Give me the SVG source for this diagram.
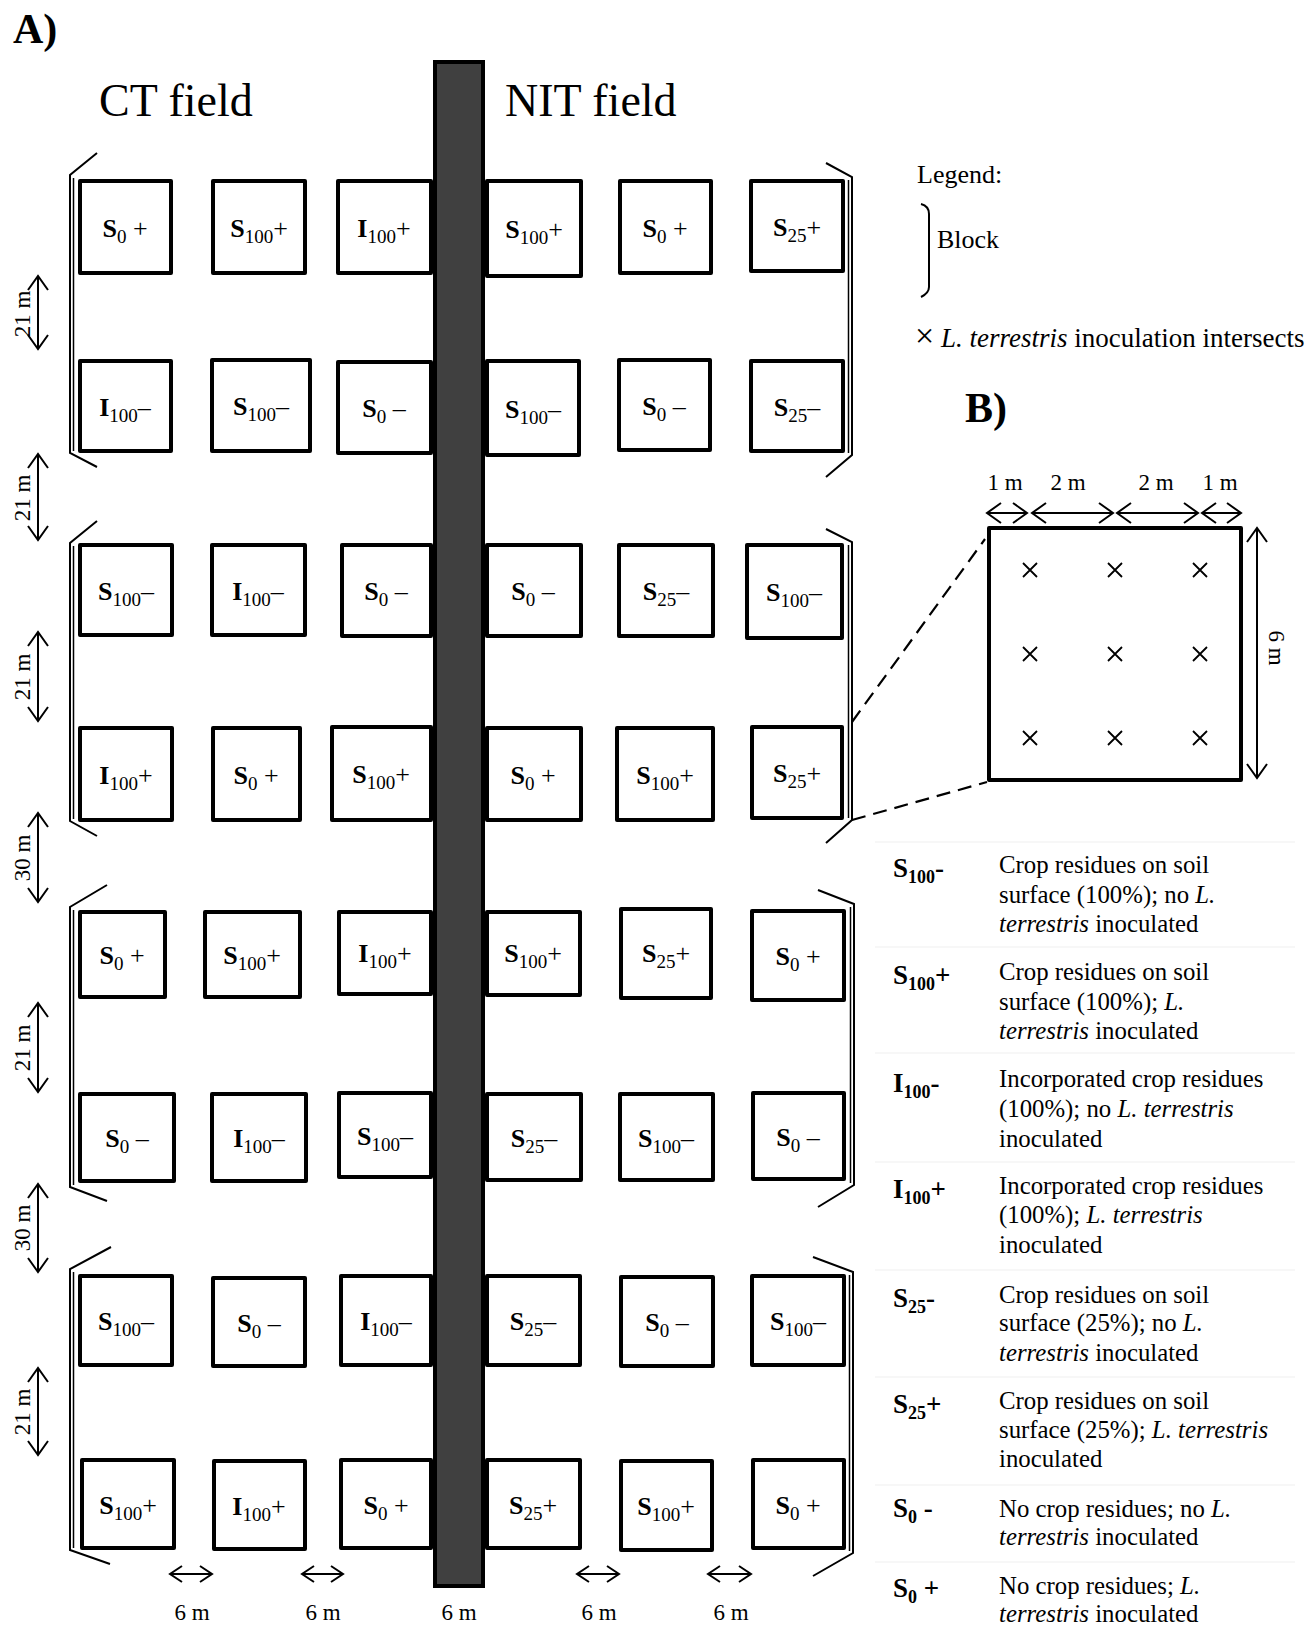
<svg xmlns="http://www.w3.org/2000/svg" width="1315" height="1627" viewBox="0 0 1315 1627">
<style>
text { font-family: "Liberation Serif", "Times New Roman", serif; fill: #000; }
.box { fill: #fff; stroke: #000; stroke-width: 4; stroke-linejoin: round; }
.lbl { font-size: 26px; text-anchor: middle; }
.b { font-weight: bold; }
.sub { font-size: 19px; }
.thin { fill: none; stroke: #000; stroke-width: 2; }
.inner { fill: none; stroke: #000; stroke-width: 1.5; }
.dim { fill: none; stroke: #000; stroke-width: 2; marker-start: url(#ah); marker-end: url(#ah); }
.dims { fill: none; stroke: #000; stroke-width: 2; marker-start: url(#ahs); marker-end: url(#ahs); }
.dash { fill: none; stroke: #000; stroke-width: 2.2; stroke-dasharray: 14 8; }
.dl { font-size: 23px; text-anchor: middle; }
.title { font-size: 46px; }
.head { font-size: 42px; font-weight: bold; }
.leg { font-size: 26px; }
.leg2 { font-size: 27px; }
.big { font-size: 34px; }
.tl { font-size: 27px; font-weight: bold; }
.tls { font-size: 18px; }
.td { font-size: 24.8px; }
.it { font-style: italic; }
.x { stroke: #000; stroke-width: 1.8; }
.grid { stroke: #f4f4f4; stroke-width: 1.5; }
</style>
<defs>
<marker id="ah" viewBox="-1 -11 17 22" refX="14" refY="0" markerWidth="17" markerHeight="22" markerUnits="userSpaceOnUse" orient="auto-start-reverse">
<path d="M0,-10 L14,0 L0,10" fill="none" stroke="#000" stroke-width="2"/>
</marker>
<marker id="ahs" viewBox="-1 -9 15 18" refX="12" refY="0" markerWidth="15" markerHeight="18" markerUnits="userSpaceOnUse" orient="auto-start-reverse">
<path d="M0,-8 L12,0 L0,8" fill="none" stroke="#000" stroke-width="2"/>
</marker>
</defs>
<rect width="1315" height="1627" fill="#fff"/>

<!-- headings -->
<text class="head" x="13" y="43">A)</text>
<text class="title" x="99" y="116">CT field</text>
<text class="title" x="505" y="116">NIT field</text>
<text class="head" x="965" y="422">B)</text>

<!-- road -->
<g id="road">
<rect x="435" y="62" width="48" height="1524" fill="#404040" stroke="#000" stroke-width="4"/>
</g>

<!-- plots -->
<g id="plots">
<!-- Row 1 -->
<g id="r1c1"><rect class="box" x="80" y="181" width="91" height="92"/><text class="lbl" x="125" y="237"><tspan class="b">S</tspan><tspan class="sub" dy="6">0</tspan><tspan dy="-6"> +</tspan></text></g>
<g id="r1c2"><rect class="box" x="213" y="181" width="92" height="92"/><text class="lbl" x="259" y="237"><tspan class="b">S</tspan><tspan class="sub" dy="6">100</tspan><tspan dy="-6">+</tspan></text></g>
<g id="r1c3"><rect class="box" x="338" y="181" width="93" height="92"/><text class="lbl" x="384" y="237"><tspan class="b">I</tspan><tspan class="sub" dy="6">100</tspan><tspan dy="-6">+</tspan></text></g>
<g id="r1c4"><rect class="box" x="487" y="181" width="94" height="95"/><text class="lbl" x="534" y="238"><tspan class="b">S</tspan><tspan class="sub" dy="6">100</tspan><tspan dy="-6">+</tspan></text></g>
<g id="r1c5"><rect class="box" x="620" y="181" width="91" height="92"/><text class="lbl" x="665" y="237"><tspan class="b">S</tspan><tspan class="sub" dy="6">0</tspan><tspan dy="-6"> +</tspan></text></g>
<g id="r1c6"><rect class="box" x="751" y="181" width="92" height="90"/><text class="lbl" x="797" y="236"><tspan class="b">S</tspan><tspan class="sub" dy="6">25</tspan><tspan dy="-6">+</tspan></text></g>
<!-- Row 2 -->
<g id="r2c1"><rect class="box" x="80" y="361" width="91" height="90"/><text class="lbl" x="125" y="416"><tspan class="b">I</tspan><tspan class="sub" dy="6">100</tspan><tspan dy="-6">–</tspan></text></g>
<g id="r2c2"><rect class="box" x="212" y="360" width="98" height="91"/><text class="lbl" x="261" y="415"><tspan class="b">S</tspan><tspan class="sub" dy="6">100</tspan><tspan dy="-6">–</tspan></text></g>
<g id="r2c3"><rect class="box" x="338" y="362" width="93" height="91"/><text class="lbl" x="384" y="417"><tspan class="b">S</tspan><tspan class="sub" dy="6">0</tspan><tspan dy="-6"> –</tspan></text></g>
<g id="r2c4"><rect class="box" x="487" y="361" width="92" height="94"/><text class="lbl" x="533" y="418"><tspan class="b">S</tspan><tspan class="sub" dy="6">100</tspan><tspan dy="-6">–</tspan></text></g>
<g id="r2c5"><rect class="box" x="619" y="360" width="91" height="90"/><text class="lbl" x="664" y="415"><tspan class="b">S</tspan><tspan class="sub" dy="6">0</tspan><tspan dy="-6"> –</tspan></text></g>
<g id="r2c6"><rect class="box" x="751" y="361" width="92" height="90"/><text class="lbl" x="797" y="416"><tspan class="b">S</tspan><tspan class="sub" dy="6">25</tspan><tspan dy="-6">–</tspan></text></g>
<!-- Row 3 -->
<g id="r3c1"><rect class="box" x="80" y="545" width="92" height="90"/><text class="lbl" x="126" y="600"><tspan class="b">S</tspan><tspan class="sub" dy="6">100</tspan><tspan dy="-6">–</tspan></text></g>
<g id="r3c2"><rect class="box" x="212" y="545" width="93" height="90"/><text class="lbl" x="258" y="600"><tspan class="b">I</tspan><tspan class="sub" dy="6">100</tspan><tspan dy="-6">–</tspan></text></g>
<g id="r3c3"><rect class="box" x="342" y="545" width="89" height="91"/><text class="lbl" x="386" y="600"><tspan class="b">S</tspan><tspan class="sub" dy="6">0</tspan><tspan dy="-6"> –</tspan></text></g>
<g id="r3c4"><rect class="box" x="487" y="545" width="94" height="91"/><text class="lbl" x="533" y="600"><tspan class="b">S</tspan><tspan class="sub" dy="6">0</tspan><tspan dy="-6"> –</tspan></text></g>
<g id="r3c5"><rect class="box" x="619" y="545" width="94" height="91"/><text class="lbl" x="666" y="600"><tspan class="b">S</tspan><tspan class="sub" dy="6">25</tspan><tspan dy="-6">–</tspan></text></g>
<g id="r3c6"><rect class="box" x="747" y="545" width="95" height="93"/><text class="lbl" x="794" y="601"><tspan class="b">S</tspan><tspan class="sub" dy="6">100</tspan><tspan dy="-6">–</tspan></text></g>
<!-- Row 4 -->
<g id="r4c1"><rect class="box" x="80" y="728" width="92" height="92"/><text class="lbl" x="126" y="784"><tspan class="b">I</tspan><tspan class="sub" dy="6">100</tspan><tspan dy="-6">+</tspan></text></g>
<g id="r4c2"><rect class="box" x="213" y="728" width="87" height="92"/><text class="lbl" x="256" y="784"><tspan class="b">S</tspan><tspan class="sub" dy="6">0</tspan><tspan dy="-6"> +</tspan></text></g>
<g id="r4c3"><rect class="box" x="332" y="727" width="99" height="93"/><text class="lbl" x="381" y="783"><tspan class="b">S</tspan><tspan class="sub" dy="6">100</tspan><tspan dy="-6">+</tspan></text></g>
<g id="r4c4"><rect class="box" x="487" y="728" width="94" height="92"/><text class="lbl" x="533" y="784"><tspan class="b">S</tspan><tspan class="sub" dy="6">0</tspan><tspan dy="-6"> +</tspan></text></g>
<g id="r4c5"><rect class="box" x="617" y="728" width="96" height="92"/><text class="lbl" x="665" y="784"><tspan class="b">S</tspan><tspan class="sub" dy="6">100</tspan><tspan dy="-6">+</tspan></text></g>
<g id="r4c6"><rect class="box" x="752" y="727" width="90" height="91"/><text class="lbl" x="797" y="782"><tspan class="b">S</tspan><tspan class="sub" dy="6">25</tspan><tspan dy="-6">+</tspan></text></g>
<!-- Row 5 -->
<g id="r5c1"><rect class="box" x="80" y="912" width="85" height="85"/><text class="lbl" x="122" y="964"><tspan class="b">S</tspan><tspan class="sub" dy="6">0</tspan><tspan dy="-6"> +</tspan></text></g>
<g id="r5c2"><rect class="box" x="205" y="912" width="95" height="85"/><text class="lbl" x="252" y="964"><tspan class="b">S</tspan><tspan class="sub" dy="6">100</tspan><tspan dy="-6">+</tspan></text></g>
<g id="r5c3"><rect class="box" x="339" y="912" width="92" height="82"/><text class="lbl" x="385" y="962"><tspan class="b">I</tspan><tspan class="sub" dy="6">100</tspan><tspan dy="-6">+</tspan></text></g>
<g id="r5c4"><rect class="box" x="487" y="912" width="93" height="83"/><text class="lbl" x="533" y="962"><tspan class="b">S</tspan><tspan class="sub" dy="6">100</tspan><tspan dy="-6">+</tspan></text></g>
<g id="r5c5"><rect class="box" x="621" y="909" width="90" height="89"/><text class="lbl" x="666" y="962"><tspan class="b">S</tspan><tspan class="sub" dy="6">25</tspan><tspan dy="-6">+</tspan></text></g>
<g id="r5c6"><rect class="box" x="752" y="911" width="92" height="89"/><text class="lbl" x="798" y="965"><tspan class="b">S</tspan><tspan class="sub" dy="6">0</tspan><tspan dy="-6"> +</tspan></text></g>
<!-- Row 6 -->
<g id="r6c1"><rect class="box" x="80" y="1094" width="94" height="87"/><text class="lbl" x="127" y="1147"><tspan class="b">S</tspan><tspan class="sub" dy="6">0</tspan><tspan dy="-6"> –</tspan></text></g>
<g id="r6c2"><rect class="box" x="212" y="1094" width="94" height="87"/><text class="lbl" x="259" y="1147"><tspan class="b">I</tspan><tspan class="sub" dy="6">100</tspan><tspan dy="-6">–</tspan></text></g>
<g id="r6c3"><rect class="box" x="339" y="1093" width="92" height="84"/><text class="lbl" x="385" y="1145"><tspan class="b">S</tspan><tspan class="sub" dy="6">100</tspan><tspan dy="-6">–</tspan></text></g>
<g id="r6c4"><rect class="box" x="487" y="1094" width="94" height="86"/><text class="lbl" x="534" y="1147"><tspan class="b">S</tspan><tspan class="sub" dy="6">25</tspan><tspan dy="-6">–</tspan></text></g>
<g id="r6c5"><rect class="box" x="620" y="1094" width="93" height="86"/><text class="lbl" x="666" y="1147"><tspan class="b">S</tspan><tspan class="sub" dy="6">100</tspan><tspan dy="-6">–</tspan></text></g>
<g id="r6c6"><rect class="box" x="753" y="1093" width="91" height="86"/><text class="lbl" x="798" y="1146"><tspan class="b">S</tspan><tspan class="sub" dy="6">0</tspan><tspan dy="-6"> –</tspan></text></g>
<!-- Row 7 -->
<g id="r7c1"><rect class="box" x="80" y="1276" width="92" height="89"/><text class="lbl" x="126" y="1330"><tspan class="b">S</tspan><tspan class="sub" dy="6">100</tspan><tspan dy="-6">–</tspan></text></g>
<g id="r7c2"><rect class="box" x="213" y="1278" width="92" height="88"/><text class="lbl" x="259" y="1332"><tspan class="b">S</tspan><tspan class="sub" dy="6">0</tspan><tspan dy="-6"> –</tspan></text></g>
<g id="r7c3"><rect class="box" x="341" y="1276" width="90" height="89"/><text class="lbl" x="386" y="1330"><tspan class="b">I</tspan><tspan class="sub" dy="6">100</tspan><tspan dy="-6">–</tspan></text></g>
<g id="r7c4"><rect class="box" x="487" y="1276" width="93" height="89"/><text class="lbl" x="533" y="1330"><tspan class="b">S</tspan><tspan class="sub" dy="6">25</tspan><tspan dy="-6">–</tspan></text></g>
<g id="r7c5"><rect class="box" x="621" y="1277" width="92" height="89"/><text class="lbl" x="667" y="1331"><tspan class="b">S</tspan><tspan class="sub" dy="6">0</tspan><tspan dy="-6"> –</tspan></text></g>
<g id="r7c6"><rect class="box" x="752" y="1276" width="92" height="89"/><text class="lbl" x="798" y="1330"><tspan class="b">S</tspan><tspan class="sub" dy="6">100</tspan><tspan dy="-6">–</tspan></text></g>
<!-- Row 8 -->
<g id="r8c1"><rect class="box" x="82" y="1460" width="92" height="88"/><text class="lbl" x="128" y="1514"><tspan class="b">S</tspan><tspan class="sub" dy="6">100</tspan><tspan dy="-6">+</tspan></text></g>
<g id="r8c2"><rect class="box" x="214" y="1461" width="91" height="88"/><text class="lbl" x="259" y="1515"><tspan class="b">I</tspan><tspan class="sub" dy="6">100</tspan><tspan dy="-6">+</tspan></text></g>
<g id="r8c3"><rect class="box" x="341" y="1460" width="90" height="88"/><text class="lbl" x="386" y="1514"><tspan class="b">S</tspan><tspan class="sub" dy="6">0</tspan><tspan dy="-6"> +</tspan></text></g>
<g id="r8c4"><rect class="box" x="487" y="1460" width="93" height="88"/><text class="lbl" x="533" y="1514"><tspan class="b">S</tspan><tspan class="sub" dy="6">25</tspan><tspan dy="-6">+</tspan></text></g>
<g id="r8c5"><rect class="box" x="621" y="1461" width="91" height="89"/><text class="lbl" x="666" y="1515"><tspan class="b">S</tspan><tspan class="sub" dy="6">100</tspan><tspan dy="-6">+</tspan></text></g>
<g id="r8c6"><rect class="box" x="753" y="1460" width="91" height="88"/><text class="lbl" x="798" y="1514"><tspan class="b">S</tspan><tspan class="sub" dy="6">0</tspan><tspan dy="-6"> +</tspan></text></g>
</g>

<!-- block brackets -->
<g id="brackets">
<polyline class="thin" points="97,153 70,175 70,453 97,467"/><line class="inner" x1="73.5" y1="178" x2="73.5" y2="451"/>
<polyline class="thin" points="97,521 70,543 70,821 97,836"/><line class="inner" x1="73.5" y1="546" x2="73.5" y2="819"/>
<polyline class="thin" points="107,885 70,907 70,1187 107,1201"/><line class="inner" x1="73.5" y1="910" x2="73.5" y2="1185"/>
<polyline class="thin" points="111,1247 70,1269 70,1550 110,1564"/><line class="inner" x1="73.5" y1="1272" x2="73.5" y2="1548"/>
<polyline class="thin" points="826,163 852,177 852,455 826,477"/><line class="inner" x1="848.5" y1="180" x2="848.5" y2="453"/>
<polyline class="thin" points="826,529 852,542 852,820 826,843"/><line class="inner" x1="848.5" y1="545" x2="848.5" y2="818"/>
<polyline class="thin" points="818,890 854,904 854,1185 818,1207"/><line class="inner" x1="850.5" y1="907" x2="850.5" y2="1183"/>
<polyline class="thin" points="813,1257 853,1272 853,1553 813,1576"/><line class="inner" x1="849.5" y1="1275" x2="849.5" y2="1551"/>
</g>

<!-- connectors: dimension arrows and zoom lines -->
<g id="connectors">
<line class="dim" x1="38" y1="276" x2="38" y2="349"/>
<line class="dim" x1="38" y1="454" x2="38" y2="540"/>
<line class="dim" x1="38" y1="632" x2="38" y2="721"/>
<line class="dim" x1="38" y1="813" x2="38" y2="902"/>
<line class="dim" x1="38" y1="1003" x2="38" y2="1092"/>
<line class="dim" x1="38" y1="1184" x2="38" y2="1272"/>
<line class="dim" x1="38" y1="1368" x2="38" y2="1455"/>
<line class="dims" x1="170" y1="1574" x2="212" y2="1574"/>
<line class="dims" x1="302" y1="1574" x2="343" y2="1574"/>
<line class="dims" x1="577" y1="1574" x2="619" y2="1574"/>
<line class="dims" x1="708" y1="1574" x2="751" y2="1574"/>
<line class="dim" x1="987" y1="513" x2="1027" y2="513"/>
<line class="dim" x1="1032" y1="513" x2="1113" y2="513"/>
<line class="dim" x1="1117" y1="513" x2="1198" y2="513"/>
<line class="dim" x1="1202" y1="513" x2="1241" y2="513"/>
<line class="dim" x1="1257" y1="528" x2="1257" y2="778"/>
<line class="dash" x1="852" y1="722" x2="985" y2="539"/>
<line class="dash" x1="852" y1="820" x2="987" y2="782"/>
</g>

<!-- dimension labels -->
<g id="dim-labels">
<text class="dl" transform="translate(30,314) rotate(-90)">21 m</text>
<text class="dl" transform="translate(30,498) rotate(-90)">21 m</text>
<text class="dl" transform="translate(30,677) rotate(-90)">21 m</text>
<text class="dl" transform="translate(30,858) rotate(-90)">30 m</text>
<text class="dl" transform="translate(30,1048) rotate(-90)">21 m</text>
<text class="dl" transform="translate(30,1228) rotate(-90)">30 m</text>
<text class="dl" transform="translate(30,1412) rotate(-90)">21 m</text>
<text class="dl" x="192" y="1620">6 m</text>
<text class="dl" x="323" y="1620">6 m</text>
<text class="dl" x="459" y="1620">6 m</text>
<text class="dl" x="599" y="1620">6 m</text>
<text class="dl" x="731" y="1620">6 m</text>
<text class="dl" x="1005" y="490">1 m</text>
<text class="dl" x="1068" y="490">2 m</text>
<text class="dl" x="1156" y="490">2 m</text>
<text class="dl" x="1220" y="490">1 m</text>
<text class="dl" transform="translate(1269,648) rotate(90)">6 m</text>
</g>

<!-- legend -->
<g id="legend">
<text class="leg" x="917" y="183">Legend:</text>
<path class="thin" d="M921,204 Q929,206 929,214 L929,287 Q929,293 921,297"/>
<text class="leg" x="937" y="248">Block</text>
<text class="leg2" x="915" y="347"><tspan class="big">×</tspan> <tspan class="it">L. terrestris</tspan> inoculation intersects</text>
</g>

<!-- plot detail B -->
<g id="plotB">
<rect class="box" x="989" y="528" width="252" height="252"/>
<g class="x">
<path d="M1023,563 L1037,577 M1037,563 L1023,577"/>
<path d="M1108,563 L1122,577 M1122,563 L1108,577"/>
<path d="M1193,563 L1207,577 M1207,563 L1193,577"/>
<path d="M1023,647 L1037,661 M1037,647 L1023,661"/>
<path d="M1108,647 L1122,661 M1122,647 L1108,661"/>
<path d="M1193,647 L1207,661 M1207,647 L1193,661"/>
<path d="M1023,731 L1037,745 M1037,731 L1023,745"/>
<path d="M1108,731 L1122,745 M1122,731 L1108,745"/>
<path d="M1193,731 L1207,745 M1207,731 L1193,745"/>
</g>
</g>

<!-- treatment table -->
<g id="table">
<g class="grid">
<line x1="875" y1="842" x2="1295" y2="842"/>
<line x1="875" y1="947" x2="1295" y2="947"/>
<line x1="875" y1="1053" x2="1295" y2="1053"/>
<line x1="875" y1="1162" x2="1295" y2="1162"/>
<line x1="875" y1="1270" x2="1295" y2="1270"/>
<line x1="875" y1="1377" x2="1295" y2="1377"/>
<line x1="875" y1="1485" x2="1295" y2="1485"/>
<line x1="875" y1="1562" x2="1295" y2="1562"/>
</g>
<g id="t1">
<text class="tl" x="893" y="877">S<tspan class="tls" dy="6">100</tspan><tspan dy="-6">-</tspan></text>
<text class="td" x="999" y="873">Crop residues on soil</text>
<text class="td" x="999" y="903">surface (100%); no <tspan class="it">L.</tspan></text>
<text class="td" x="999" y="932"><tspan class="it">terrestris</tspan> inoculated</text>
</g>
<g id="t2">
<text class="tl" x="893" y="984">S<tspan class="tls" dy="6">100</tspan><tspan dy="-6">+</tspan></text>
<text class="td" x="999" y="980">Crop residues on soil</text>
<text class="td" x="999" y="1010">surface (100%); <tspan class="it">L.</tspan></text>
<text class="td" x="999" y="1039"><tspan class="it">terrestris</tspan> inoculated</text>
</g>
<g id="t3">
<text class="tl" x="893" y="1092">I<tspan class="tls" dy="6">100</tspan><tspan dy="-6">-</tspan></text>
<text class="td" x="999" y="1087">Incorporated crop residues</text>
<text class="td" x="999" y="1117">(100%); no <tspan class="it">L. terrestris</tspan></text>
<text class="td" x="999" y="1147">inoculated</text>
</g>
<g id="t4">
<text class="tl" x="893" y="1198">I<tspan class="tls" dy="6">100</tspan><tspan dy="-6">+</tspan></text>
<text class="td" x="999" y="1194">Incorporated crop residues</text>
<text class="td" x="999" y="1223">(100%); <tspan class="it">L. terrestris</tspan></text>
<text class="td" x="999" y="1253">inoculated</text>
</g>
<g id="t5">
<text class="tl" x="893" y="1307">S<tspan class="tls" dy="6">25</tspan><tspan dy="-6">-</tspan></text>
<text class="td" x="999" y="1303">Crop residues on soil</text>
<text class="td" x="999" y="1331">surface (25%); no <tspan class="it">L.</tspan></text>
<text class="td" x="999" y="1361"><tspan class="it">terrestris</tspan> inoculated</text>
</g>
<g id="t6">
<text class="tl" x="893" y="1413">S<tspan class="tls" dy="6">25</tspan><tspan dy="-6">+</tspan></text>
<text class="td" x="999" y="1409">Crop residues on soil</text>
<text class="td" x="999" y="1438">surface (25%); <tspan class="it">L. terrestris</tspan></text>
<text class="td" x="999" y="1467">inoculated</text>
</g>
<g id="t7">
<text class="tl" x="893" y="1517">S<tspan class="tls" dy="6">0</tspan><tspan dy="-6"> -</tspan></text>
<text class="td" x="999" y="1517">No crop residues; no <tspan class="it">L.</tspan></text>
<text class="td" x="999" y="1545"><tspan class="it">terrestris</tspan> inoculated</text>
</g>
<g id="t8">
<text class="tl" x="893" y="1597">S<tspan class="tls" dy="6">0</tspan><tspan dy="-6"> +</tspan></text>
<text class="td" x="999" y="1594">No crop residues; <tspan class="it">L.</tspan></text>
<text class="td" x="999" y="1622"><tspan class="it">terrestris</tspan> inoculated</text>
</g>
</g>
</svg>
